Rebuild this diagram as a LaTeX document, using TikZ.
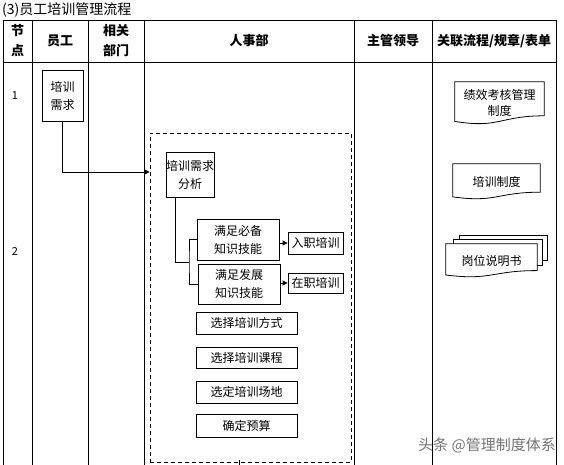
\documentclass[tikz,border=0pt]{standalone}
\usepackage{fontspec}
\setmainfont{Noto Sans CJK SC}
\usetikzlibrary{arrows.meta,calc}
\pgfdeclarelayer{bg}
\pgfsetlayers{bg,main}
\newcommand\docoutline[2][]{%
  \draw[docline,#1] (#2.north west) -- (#2.north east)
    -- ($(#2.north east)!0.802!(#2.south east)$)
    .. controls ($(#2.north)!0.802!(#2.south)$) and ($(#2.north)!1.107!(#2.south)$)
    .. ($(#2.north west)!0.934!(#2.south west)$) -- cycle;}
\begin{document}
\begin{tikzpicture}[x=1pt,y=-1pt,
  grid/.style={line width=0.8pt},
  box/.style={draw, line width=0.8pt, inner sep=0pt, align=center,
    font=\fontsize{12pt}{18pt}\selectfont},
  docn/.style={inner sep=0pt, align=center, font=\fontsize{12pt}{16pt}\selectfont},
  docline/.style={line width=0.8pt},
  backdoc/.style={draw, fill=white, line width=0.8pt, inner sep=0pt},
  head/.style={inner sep=0pt, align=center, font=\bfseries\fontsize{13pt}{20pt}\selectfont},
  plain/.style={inner sep=0pt, font=\fontsize{11pt}{13pt}\selectfont},
  grp/.style={draw, dash pattern=on 4pt off 3pt, line width=0.9pt, inner sep=0pt},
  arr/.style={line width=0.8pt, -{Triangle[length=5pt,width=5pt]}},
  conn/.style={line width=0.8pt}]
\useasboundingbox (0,0) rectangle (564,465);
% title
\node[anchor=west, inner sep=0pt, font=\fontsize{14pt}{16pt}\selectfont] (title) at (2,10) {(3)员工培训管理流程};
% table grid
\draw[grid] (3,20) -- (556,20);
\draw[grid] (3,62) -- (556,62);
\foreach \x in {3,32,88,144,354,432,556} \draw[grid] (\x,20) -- (\x,465);
% header
\node[head] (h1) at (17.5,41) {节\\点};
\node[head] (h2) at (60,41) {员工};
\node[head] (h3) at (116,41) {相关\\部门};
\node[head] (h4) at (249,41) {人事部};
\node[head] (h5) at (393,41) {主管领导};
\node[head] (h6) at (494,41) {关联流程/规章/表单};
% node numbers
\node[plain] (n1) at (15,96) {1};
\node[plain] (n2) at (15,252) {2};
% employee
\node[box, minimum width=41pt, minimum height=51pt] (emp) at (62.5,95.5) {培训\\需求};
% HR group
\node[grp, minimum width=201pt, minimum height=329pt] (grp) at (250.5,297.5) {};
\node[box, minimum width=42pt, minimum height=45pt] (an) at (190,174.5) {培训需求\\分析};
\node[box, minimum width=82pt, minimum height=41pt] (b1) at (238,239.5) {满足必备\\知识技能};
\node[box, minimum width=82pt, minimum height=40pt] (b2) at (239,284) {满足发展\\知识技能};
\node[box, minimum width=55pt, minimum height=22pt] (r1) at (315.5,243) {入职培训};
\node[box, minimum width=55pt, minimum height=20pt] (r2) at (315.5,283) {在职培训};
\node[box, minimum width=101pt, minimum height=22pt] (s1) at (246.5,323) {选择培训方式};
\node[box, minimum width=101pt, minimum height=21pt] (s2) at (246.5,357.5) {选择培训课程};
\node[box, minimum width=101pt, minimum height=22pt] (s3) at (246.5,392) {选定培训场地};
\node[box, minimum width=101pt, minimum height=23pt] (s4) at (246.5,425.5) {确定预算};
% connectors
\draw[arr] (emp.south) |- ([yshift=2.5pt]grp.west |- an.west);
\coordinate (j) at (189,262);
\draw[conn] ([xshift=10pt]an.south west) |- (j);
\draw[conn] (b1.west) -| (j) |- (b2.west);
\draw[arr] (b1.east |- r1.west) -- (r1.west);
\draw[arr] (b2.east |- r2.west) -- (r2.west);
\coordinate (c1) at (239,460);
\coordinate (c2) at (239,465);
\draw[conn] (c1) -- (c2);
% documents
\node[docn, minimum width=89pt, minimum height=42pt] (d1) at (499.5,103) {绩效考核管理\\制度};
\docoutline{d1}
\node[docn, minimum width=87pt, minimum height=35pt] (d2) at (496.5,181.5) {培训制度};
\docoutline{d2}
\node[docn, minimum width=91pt, minimum height=33pt] (d3) at (491.5,260.5) {岗位说明书};
\begin{pgfonlayer}{bg}
\node[backdoc, minimum width=88pt, minimum height=25pt] (d3b) at (503,247.5) {};
\node[backdoc, minimum width=89pt, minimum height=26pt] (d3m) at (497.5,252) {};
\docoutline[fill=white]{d3}
\end{pgfonlayer}
% watermark
\node[inner sep=0pt, text=black!55, font=\fontsize{15pt}{17pt}\selectfont] (wm) at (487,445) {头条 @管理制度体系};
\end{tikzpicture}
\end{document}
